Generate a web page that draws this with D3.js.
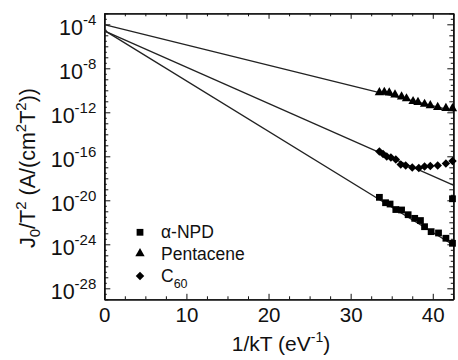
<!DOCTYPE html>
<html>
<head>
<meta charset="utf-8">
<script src="https://cdn.jsdelivr.net/npm/d3@7"></script>
<style>
  html, body { margin: 0; padding: 0; background: #fff; }
  svg { display: block; font-family: "Liberation Sans", Arial, sans-serif; }
</style>
</head>
<body>
<div id="chart"></div>
<script>
// data (y values are log10 of J0/T^2)
const pentaceneX = [33.5, 34.1, 34.7, 35.4, 36.2, 36.8, 37.6, 38.2, 39.0, 39.7, 40.6, 41.6, 42.4];
const pentaceneLogY = [-10.2, -10.17, -10.22, -10.4, -10.58, -10.75, -11.0, -11.08, -11.25, -11.38, -11.54, -11.63, -11.65];

const c60X = [33.5, 33.95, 34.4, 34.9, 35.5, 36.1, 36.7, 37.5, 38.3, 39.0, 39.7, 40.6, 41.6, 42.4];
const c60LogY = [-15.56, -15.79, -16.02, -16.11, -16.29, -16.75, -16.84, -17.02, -17.06, -16.93, -16.88, -16.84, -16.65, -16.43];

const npdX = [33.5, 34.25, 34.8, 35.5, 36.2, 37.0, 37.8, 38.5, 39.0, 39.8, 40.7, 41.6, 42.4, 42.4];
const npdLogY = [-19.73, -20.22, -20.34, -20.84, -20.88, -21.31, -21.64, -21.84, -22.4, -22.85, -22.97, -23.45, -23.91, -19.86];

// linear fits: log10(J0/T^2) = intercept + slope * (1/kT)
const fitNames = ['Pentacene', 'C60', 'alpha-NPD'];
const fitIntercepts = [-4.04, -4.6, -4.55];
const fitSlopes = [-0.184, -0.33, -0.459];

const xMajorTicks = [0, 10, 20, 30, 40];
const yLabelExps = [-28, -24, -20, -16, -12, -8, -4];

const width = 458, height = 360;
const margin = { top: 13.3, right: 4.7, bottom: 60.7, left: 104.3 };

const svg = d3.select('#chart').append('svg')
  .attr('width', width)
  .attr('height', height);

const x = d3.scaleLinear().domain([0, 42.5]).range([margin.left, width - margin.right]);
const y = d3.scaleLog().domain([1e-29, 1e-3]).range([height - margin.bottom, margin.top]);

const ink = '#111';

// minor tick values
const xMinor = d3.range(0, 42.51, 2.5).filter(v => !xMajorTicks.includes(v));
const yDecades = d3.range(-29, -2).map(e => Math.pow(10, e)).filter(v => !yLabelExps.includes(Math.round(Math.log10(v))));
const yHalf = d3.range(-29, -3).map(e => Math.pow(10, e + 0.5));

function styleAxis(g) {
  g.select('.domain').attr('stroke', ink).attr('stroke-width', 1.2);
  g.selectAll('.tick line').attr('stroke', ink).attr('stroke-width', 1);
}

const plotBottom = y.range()[0], plotTop = y.range()[1];
const plotLeft = x.range()[0], plotRight = x.range()[1];

// bottom axis
svg.append('g').attr('transform', `translate(0,${plotBottom})`)
  .call(d3.axisBottom(x).tickValues(xMinor).tickSize(-3).tickSizeOuter(0).tickFormat(''))
  .call(styleAxis);
const xAxisG = svg.append('g').attr('transform', `translate(0,${plotBottom})`)
  .call(d3.axisBottom(x).tickValues(xMajorTicks).tickSize(-5.5).tickSizeOuter(0).tickPadding(8).tickFormat(d3.format('d')))
  .call(styleAxis);
xAxisG.selectAll('.tick text').attr('fill', ink).attr('font-size', 20.5).attr('font-family', '"Liberation Sans", Arial, sans-serif');

// top axis (ticks only)
svg.append('g').attr('transform', `translate(0,${plotTop})`)
  .call(d3.axisTop(x).tickValues(xMinor).tickSize(-3).tickSizeOuter(0).tickFormat(''))
  .call(styleAxis);
svg.append('g').attr('transform', `translate(0,${plotTop})`)
  .call(d3.axisTop(x).tickValues(xMajorTicks).tickSize(-5.5).tickSizeOuter(0).tickFormat(''))
  .call(styleAxis);

// left and right axes
[[d3.axisLeft, plotLeft], [d3.axisRight, plotRight]].forEach(([axisFn, pos]) => {
  svg.append('g').attr('transform', `translate(${pos},0)`)
    .call(axisFn(y).tickValues(yHalf).tickSize(-2.5).tickSizeOuter(0).tickFormat(''))
    .call(styleAxis);
  svg.append('g').attr('transform', `translate(${pos},0)`)
    .call(axisFn(y).tickValues(yDecades).tickSize(-4).tickSizeOuter(0).tickFormat(''))
    .call(styleAxis);
});
const yAxisG = svg.append('g').attr('transform', `translate(${plotLeft},0)`)
  .call(d3.axisLeft(y).tickValues(yLabelExps.map(e => Math.pow(10, e))).tickSize(-6).tickSizeOuter(0).tickFormat(''))
  .call(styleAxis);
svg.append('g').attr('transform', `translate(${plotRight},0)`)
  .call(d3.axisRight(y).tickValues(yLabelExps.map(e => Math.pow(10, e))).tickSize(-6).tickSizeOuter(0).tickFormat(''))
  .call(styleAxis);

// y tick labels with superscripts
yAxisG.selectAll('.tick').each(function(d) {
  const t = d3.select(this).append('text')
    .attr('x', -8).attr('y', 10)
    .attr('text-anchor', 'end')
    .attr('fill', ink)
    .attr('font-size', 21.5);
  t.append('tspan').text('10');
  t.append('tspan').attr('dy', -10).attr('font-size', 15).text(String(Math.round(Math.log10(d))));
});

// fit lines
const plot = svg.append('g');
fitIntercepts.forEach((b, i) => {
  const m = fitSlopes[i];
  const ends = x.domain().map(v => [v, Math.pow(10, b + m * v)]);
  plot.append('line')
    .attr('x1', x(ends[0][0])).attr('y1', y(ends[0][1]))
    .attr('x2', x(ends[1][0])).attr('y2', y(ends[1][1]))
    .attr('stroke', '#222')
    .attr('stroke-width', 1.3);
});

// markers
const sqSym = d3.symbol().type(d3.symbolSquare).size(46);
const triSym = d3.symbol().type(d3.symbolTriangle).size(38);
const diaSym = d3.symbol().type(d3.symbolSquare).size(36);

const clipX = v => Math.min(v, x.domain()[1]);

function drawSeries(xs, ys, sym, rot) {
  plot.append('g').selectAll('path')
    .data(xs.map((v, i) => [v, ys[i]]))
    .join('path')
    .attr('d', sym)
    .attr('fill', '#000')
    .attr('transform', d => `translate(${x(clipX(d[0]))},${y(Math.pow(10, d[1]))})${rot ? ' rotate(45)' : ''}`);
}
drawSeries(pentaceneX, pentaceneLogY, triSym, false);
drawSeries(c60X, c60LogY, diaSym, true);
drawSeries(npdX, npdLogY, sqSym, false);

// legend
const legendRows = [
  { sym: sqSym, rot: false, label: ['\u03b1-NPD'] },
  { sym: triSym, rot: false, label: ['Pentacene'] },
  { sym: diaSym, rot: true, label: ['C', '60'] }
];
const legendY = [232.3, 253.5, 276];
legendRows.forEach((r, i) => {
  svg.append('path')
    .attr('d', r.sym)
    .attr('fill', '#000')
    .attr('transform', `translate(140,${legendY[i]})${r.rot ? ' rotate(45)' : ''}`);
  const t = svg.append('text')
    .attr('x', 161).attr('y', legendY[i] + 6)
    .attr('fill', ink)
    .attr('font-size', 17.5);
  t.append('tspan').text(r.label[0]);
  if (r.label[1]) t.append('tspan').attr('dy', 6).attr('font-size', 12.5).text(r.label[1]);
});

// x axis title
const xt = svg.append('text')
  .attr('x', 281).attr('y', 351)
  .attr('text-anchor', 'middle')
  .attr('fill', ink)
  .attr('font-size', 21);
xt.append('tspan').text('1/kT (eV');
xt.append('tspan').attr('dy', -9).attr('font-size', 14).text('-1');
xt.append('tspan').attr('dy', 9).text(')');

// y axis title
const yt = svg.append('text')
  .attr('transform', `translate(35,168) rotate(-90)`)
  .attr('text-anchor', 'middle')
  .attr('fill', ink)
  .attr('font-size', 21.5);
yt.append('tspan').text('J');
yt.append('tspan').attr('dy', 5).attr('font-size', 15).text('0');
yt.append('tspan').attr('dy', -5).text('/T');
yt.append('tspan').attr('dy', -9).attr('font-size', 15).text('2');
yt.append('tspan').attr('dy', 9).text(' (A/(cm');
yt.append('tspan').attr('dy', -9).attr('font-size', 15).text('2');
yt.append('tspan').attr('dy', 9).text('T');
yt.append('tspan').attr('dy', -9).attr('font-size', 15).text('2');
yt.append('tspan').attr('dy', 9).text('))');
</script>
</body>
</html>
